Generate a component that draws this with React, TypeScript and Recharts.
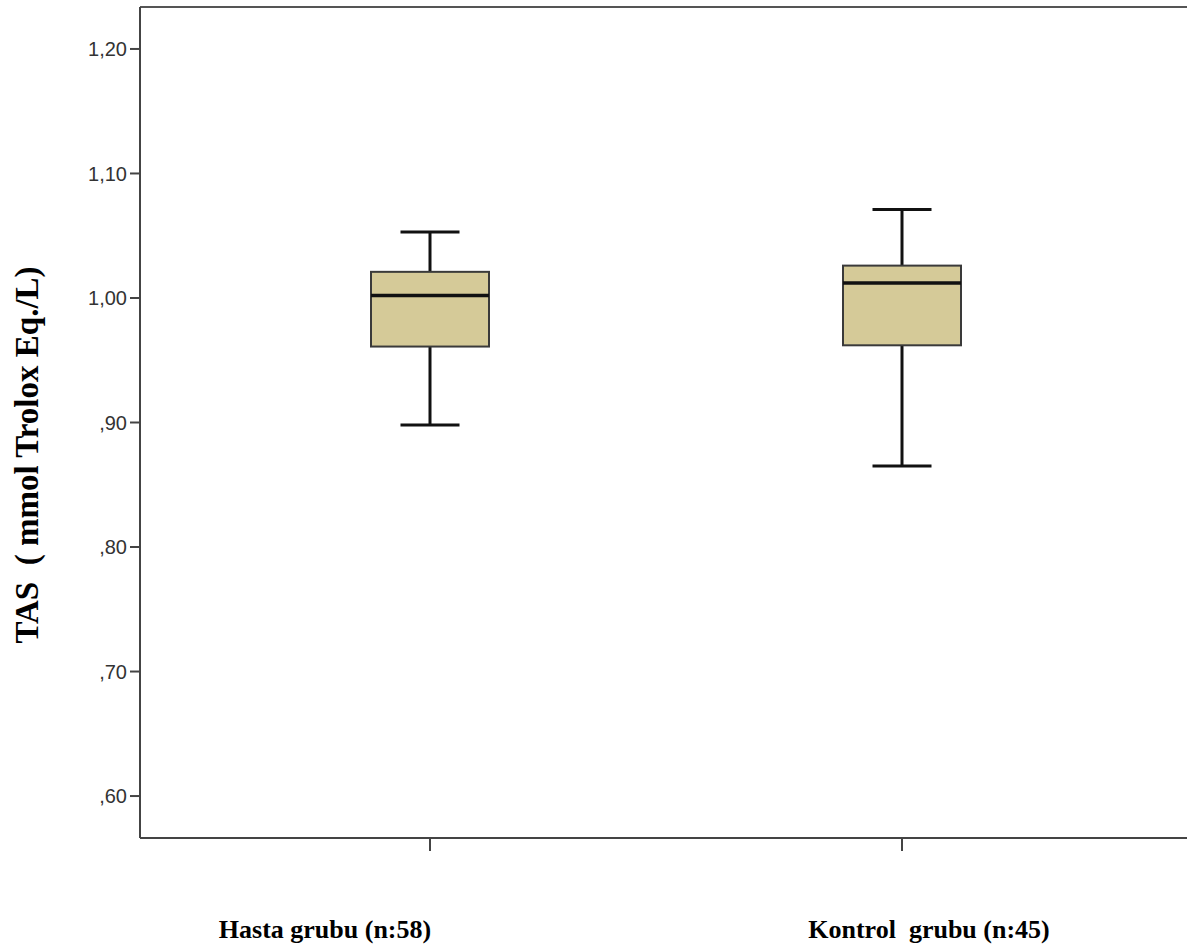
import { ComposedChart, Bar, Line, XAxis, YAxis, ReferenceLine } from 'recharts';

// group labels and box statistics
const groups = ['Hasta grubu (n:58)', 'Kontrol  grubu (n:45)'];
const whiskerLow = [0.898, 0.865];
const q1 = [0.961, 0.962];
const median = [1.002, 1.012];
const q3 = [1.021, 1.026];
const whiskerHigh = [1.053, 1.071];
const yTicks = [0.6, 0.7, 0.8, 0.9, 1.0, 1.1, 1.2];
const yMin = 0.5663;
const yMax = 1.2337;

const data = groups.map((g, i) => ({
  group: g,
  range: [whiskerLow[i], whiskerHigh[i]],
  low: whiskerLow[i],
  q1: q1[i],
  median: median[i],
  q3: q3[i],
  high: whiskerHigh[i],
}));

const fmt = (v: number) => {
  const s = v.toFixed(2).replace('.', ',');
  return v < 1 ? s.slice(1) : s;
};

function BoxShape(props: any) {
  const { x, y, width, height, payload } = props;
  const top = Math.min(y, y + height);
  const bot = Math.max(y, y + height);
  const { low, high } = payload;
  const py = (v: number) => bot - ((v - low) / (high - low)) * (bot - top);
  const cx = x + width / 2;
  const cap = width / 4;
  return (
    <g>
      <line x1={cx} x2={cx} y1={py(high)} y2={py(payload.q3)} stroke="#111" strokeWidth={3} />
      <line x1={cx} x2={cx} y1={py(payload.q1)} y2={py(low)} stroke="#111" strokeWidth={3} />
      <line x1={cx - cap} x2={cx + cap} y1={py(high)} y2={py(high)} stroke="#111" strokeWidth={3} />
      <line x1={cx - cap} x2={cx + cap} y1={py(low)} y2={py(low)} stroke="#111" strokeWidth={3} />
      <rect
        x={x}
        y={py(payload.q3)}
        width={width}
        height={py(payload.q1) - py(payload.q3)}
        fill="#d5ca98"
        stroke="#3a3a3a"
        strokeWidth={2}
      />
      <line x1={x} x2={x + width} y1={py(payload.median)} y2={py(payload.median)} stroke="#111" strokeWidth={3.5} />
    </g>
  );
}

// label centres sit off the tick marks in the original
const labelShift = [-105, 27];

function GroupTick(props: any) {
  const { x, payload, index } = props;
  return (
    <text
      x={x + labelShift[index]}
      y={938}
      textAnchor="middle"
      fontFamily="'Liberation Serif', 'Times New Roman', serif"
      fontWeight="bold"
      fontSize={26}
      fill="#000"
      style={{ whiteSpace: 'pre' }}
    >
      {payload.value}
    </text>
  );
}

function YLabel() {
  return (
    <text
      x={27}
      y={455}
      transform="rotate(-90, 27, 455)"
      textAnchor="middle"
      dominantBaseline="central"
      fontFamily="'Liberation Serif', 'Times New Roman', serif"
      fontWeight="bold"
      fontSize={33}
      fill="#000"
      style={{ whiteSpace: 'pre' }}
    >
      TAS  ( mmol Trolox Eq./L)
    </text>
  );
}

export default function App() {
  return (
    <div style={{ position: 'absolute', left: 0, top: 0, background: '#fff' }}>
      <ComposedChart
        width={1189}
        height={947}
        data={data}
        margin={{ top: 7, right: 2, bottom: 0, left: 0 }}
      >
        {/* darker line along the top of the frame */}
        <ReferenceLine y={yMax} stroke="#555" strokeWidth={2} ifOverflow="visible" />
        <XAxis
          dataKey="group"
          type="category"
          height={109}
          padding={{ left: 54, right: 49 }}
          axisLine={{ stroke: '#444', strokeWidth: 2 }}
          tickLine={{ stroke: '#444', strokeWidth: 2 }}
          tickSize={13}
          tick={<GroupTick />}
          interval={0}
        />
        <YAxis
          type="number"
          domain={[yMin, yMax]}
          ticks={yTicks}
          allowDataOverflow
          width={140}
          tickFormatter={fmt}
          tickSize={10}
          tickMargin={3}
          axisLine={{ stroke: '#444', strokeWidth: 2 }}
          tickLine={{ stroke: '#444', strokeWidth: 2 }}
          tick={{ fontSize: 20, fill: '#333', fontFamily: "'Liberation Sans', Arial, sans-serif" }}
          label={<YLabel />}
        />
        {/* faint right edge of the frame */}
        <YAxis
          yAxisId="right"
          orientation="right"
          type="number"
          domain={[yMin, yMax]}
          allowDataOverflow
          width={0}
          tick={false}
          tickLine={false}
          axisLine={{ stroke: '#d6d6d6', strokeWidth: 2 }}
        />
        <Bar dataKey="range" barSize={118} shape={<BoxShape />} isAnimationActive={false} />
        <Line yAxisId="right" dataKey="none" stroke="none" dot={false} activeDot={false} isAnimationActive={false} />
      </ComposedChart>
    </div>
  );
}
